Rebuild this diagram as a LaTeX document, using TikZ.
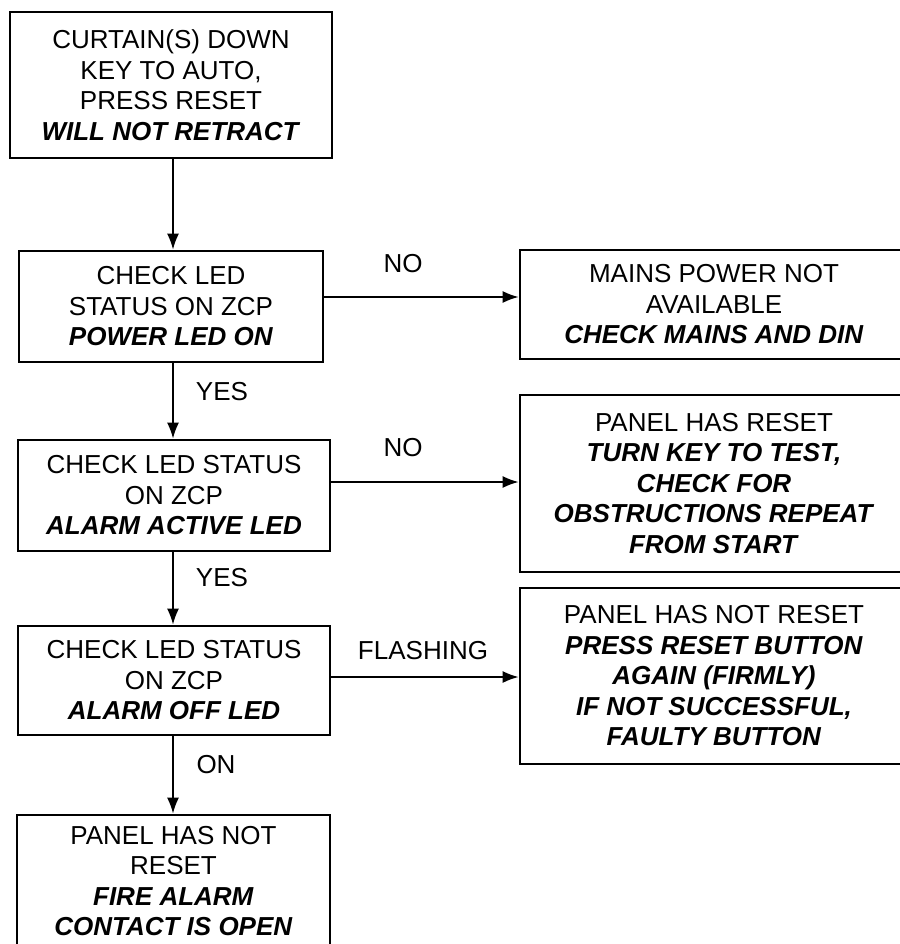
\documentclass[tikz,border=0pt]{standalone}
\usepackage{fontspec}
\setmainfont{Liberation Sans}
\usetikzlibrary{arrows.meta}
\newcommand{\bfi}[1]{\textbf{\textit{#1}}}
\begin{document}
\begin{tikzpicture}[x=1pt,y=-1pt,
  box/.style={draw, line width=2.6pt, align=center, inner sep=0pt,
    font=\fontsize{26}{30.5}\selectfont},
  lbl/.style={inner sep=0pt, font=\fontsize{26}{30.5}\selectfont},
  arr/.style={line width=2pt, -{Latex[length=16pt,width=12pt]}}]
\useasboundingbox (0,0) rectangle (899,944);
\fill[white] (0,0) rectangle (899,944);
% left column
\node[box, minimum width=322pt, minimum height=146pt] (b1) at (171,85)
  {CURTAIN(S) DOWN\\KEY TO AUTO,\\PRESS RESET\\\bfi{WILL NOT RETRACT}};
\node[box, minimum width=304pt, minimum height=111pt] (b2) at (171,306.5)
  {CHECK LED\\STATUS ON ZCP\\\bfi{POWER LED ON}};
\node[box, minimum width=312pt, minimum height=111pt] (b3) at (174,495.5)
  {CHECK LED STATUS\\ON ZCP\\\bfi{ALARM ACTIVE LED}};
\node[box, minimum width=312pt, minimum height=109pt] (b4) at (174,680.5)
  {CHECK LED STATUS\\ON ZCP\\\bfi{ALARM OFF LED}};
\node[box, minimum width=313pt, minimum height=132pt] (b5) at (173.5,881)
  {PANEL HAS NOT\\RESET\\\bfi{FIRE ALARM}\\\bfi{CONTACT IS OPEN}};
% right column
\node[box, minimum width=388pt, minimum height=109pt] (r1) at (714,304.5)
  {MAINS POWER NOT\\AVAILABLE\\\bfi{CHECK MAINS AND DIN}};
\node[box, minimum width=388pt, minimum height=177pt] (r2) at (714,483.5)
  {PANEL HAS RESET\\\bfi{TURN KEY TO TEST,}\\\bfi{CHECK FOR}\\\bfi{OBSTRUCTIONS REPEAT}\\\bfi{FROM START}};
\node[box, minimum width=388pt, minimum height=176pt] (r3) at (714,676)
  {PANEL HAS NOT RESET\\\bfi{PRESS RESET BUTTON}\\\bfi{AGAIN (FIRMLY)}\\\bfi{IF NOT SUCCESSFUL,}\\\bfi{FAULTY BUTTON}};
% helper coordinates
\coordinate (ax) at (173,0);
\coordinate (h1) at (0,297);
\coordinate (h2) at (0,482);
\coordinate (h3) at (0,677);
% connectors
\draw[arr] (b1.south -| ax) -- (b2.north -| ax);
\draw[arr] (b2.south -| ax) -- (b3.north -| ax);
\draw[arr] (b3.south -| ax) -- (b4.north -| ax);
\draw[arr] (b4.south -| ax) -- (b5.north -| ax);
\draw[arr] (b2.east |- h1) -- (r1.west |- h1);
\draw[arr] (b3.east |- h2) -- (r2.west |- h2);
\draw[arr] (b4.east |- h3) -- (r3.west |- h3);
% labels
\node[lbl] (l1) at (403,264) {NO};
\node[lbl] (l2) at (403,448) {NO};
\node[lbl] (l3) at (423,651) {FLASHING};
\node[lbl] (l4) at (222,392) {YES};
\node[lbl] (l5) at (222,578) {YES};
\node[lbl] (l6) at (216,765) {ON};
\end{tikzpicture}
\end{document}
